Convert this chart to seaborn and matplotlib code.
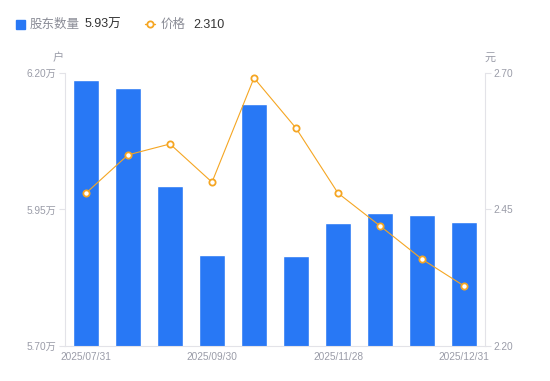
import pandas as pd
import matplotlib.pyplot as plt
import seaborn as sns

dates = ["2025/07/31", "", "", "2025/09/30", "", "", "2025/11/28", "", "", "2025/12/31"]
holders = [6.187, 6.173, 5.993, 5.867, 6.143, 5.865, 5.925, 5.944, 5.940, 5.927]
price = [2.480, 2.550, 2.570, 2.500, 2.691, 2.599, 2.480, 2.420, 2.359, 2.310]

df = pd.DataFrame({"idx": range(len(holders)), "holders": holders, "price": price})

sns.set_style("white")
plt.rcParams["font.family"] = ["Liberation Sans", "Noto Sans CJK SC", "DejaVu Sans"]

blue = "#2878f5"
orange = "#f5a623"
gray = "#9a9ca8"
spine = "#e3e3e8"

fig = plt.figure(figsize=(5.5, 3.81), dpi=100)
ax = fig.add_axes([65 / 550, 0.0919, 420 / 550, 0.7165])

sns.barplot(data=df, x="idx", y="holders", color=blue, width=0.6, ax=ax,
            saturation=1, bottom=0)
ax.set_ylim(5.70, 6.20)
ax.set_yticks([5.70, 5.95, 6.20])
ax.set_yticklabels(["5.70万", "5.95万", "6.20万"])
ax.set_xlim(-0.5, len(holders) - 0.5)
ax.set_xticks([0, 3, 6, 9])
ax.set_xticklabels([dates[i] for i in [0, 3, 6, 9]])
ax.set_xlabel("")
ax.set_ylabel("")

ax2 = ax.twinx()
sns.lineplot(data=df, x="idx", y="price", color=orange, lw=0.8, marker="o",
             markersize=4.5, markerfacecolor="white", markeredgecolor=orange,
             markeredgewidth=1.3, ax=ax2)
ax2.set_ylim(2.20, 2.70)
ax2.set_yticks([2.20, 2.45, 2.70])
ax2.set_yticklabels(["2.20", "2.45", "2.70"])
ax2.set_xlabel("")
ax2.set_ylabel("")

for a in (ax, ax2):
    for s in a.spines.values():
        s.set_visible(False)
    a.tick_params(colors=gray, labelsize=7.3, length=4, width=0.8, pad=2)
    a.tick_params(axis="y", colors=spine, labelcolor=gray)
ax.spines["left"].set_visible(True)
ax.spines["left"].set_color(spine)
ax.spines["bottom"].set_visible(True)
ax.spines["bottom"].set_color(spine)
ax2.spines["right"].set_visible(True)
ax2.spines["right"].set_color(spine)
ax.tick_params(axis="x", length=0, pad=4)

fig.text(58 / 550, 1 - 58 / 381, "户", color=gray, fontsize=8, ha="center", va="center")
fig.text(490 / 550, 1 - 58 / 381, "元", color=gray, fontsize=8, ha="center", va="center")

# legend
ly = 1 - 25 / 381
fig.patches.append(plt.Rectangle((16 / 550, 1 - 29 / 381), 9 / 550, 9 / 381,
                                 transform=fig.transFigure, color=blue, figure=fig))
fig.text(30 / 550, ly, "股东数量", color="#8a8c96", fontsize=9, va="center")
fig.text(85 / 550, ly, "5.93万", color="#333333", fontsize=9, va="center")
fig.lines.append(plt.Line2D([145 / 550, 155 / 550], [1 - 24 / 381, 1 - 24 / 381],
                            transform=fig.transFigure, color=orange, lw=1))
fig.lines.append(plt.Line2D([150 / 550], [1 - 24 / 381], transform=fig.transFigure,
                            color=orange, marker="o", markersize=4.5,
                            markerfacecolor="white", markeredgewidth=1.3, lw=0))
fig.text(161 / 550, ly, "价格", color="#8a8c96", fontsize=9, va="center")
fig.text(193 / 550, ly, "2.310", color="#333333", fontsize=9, va="center")

fig.savefig("out.png", dpi=100)
